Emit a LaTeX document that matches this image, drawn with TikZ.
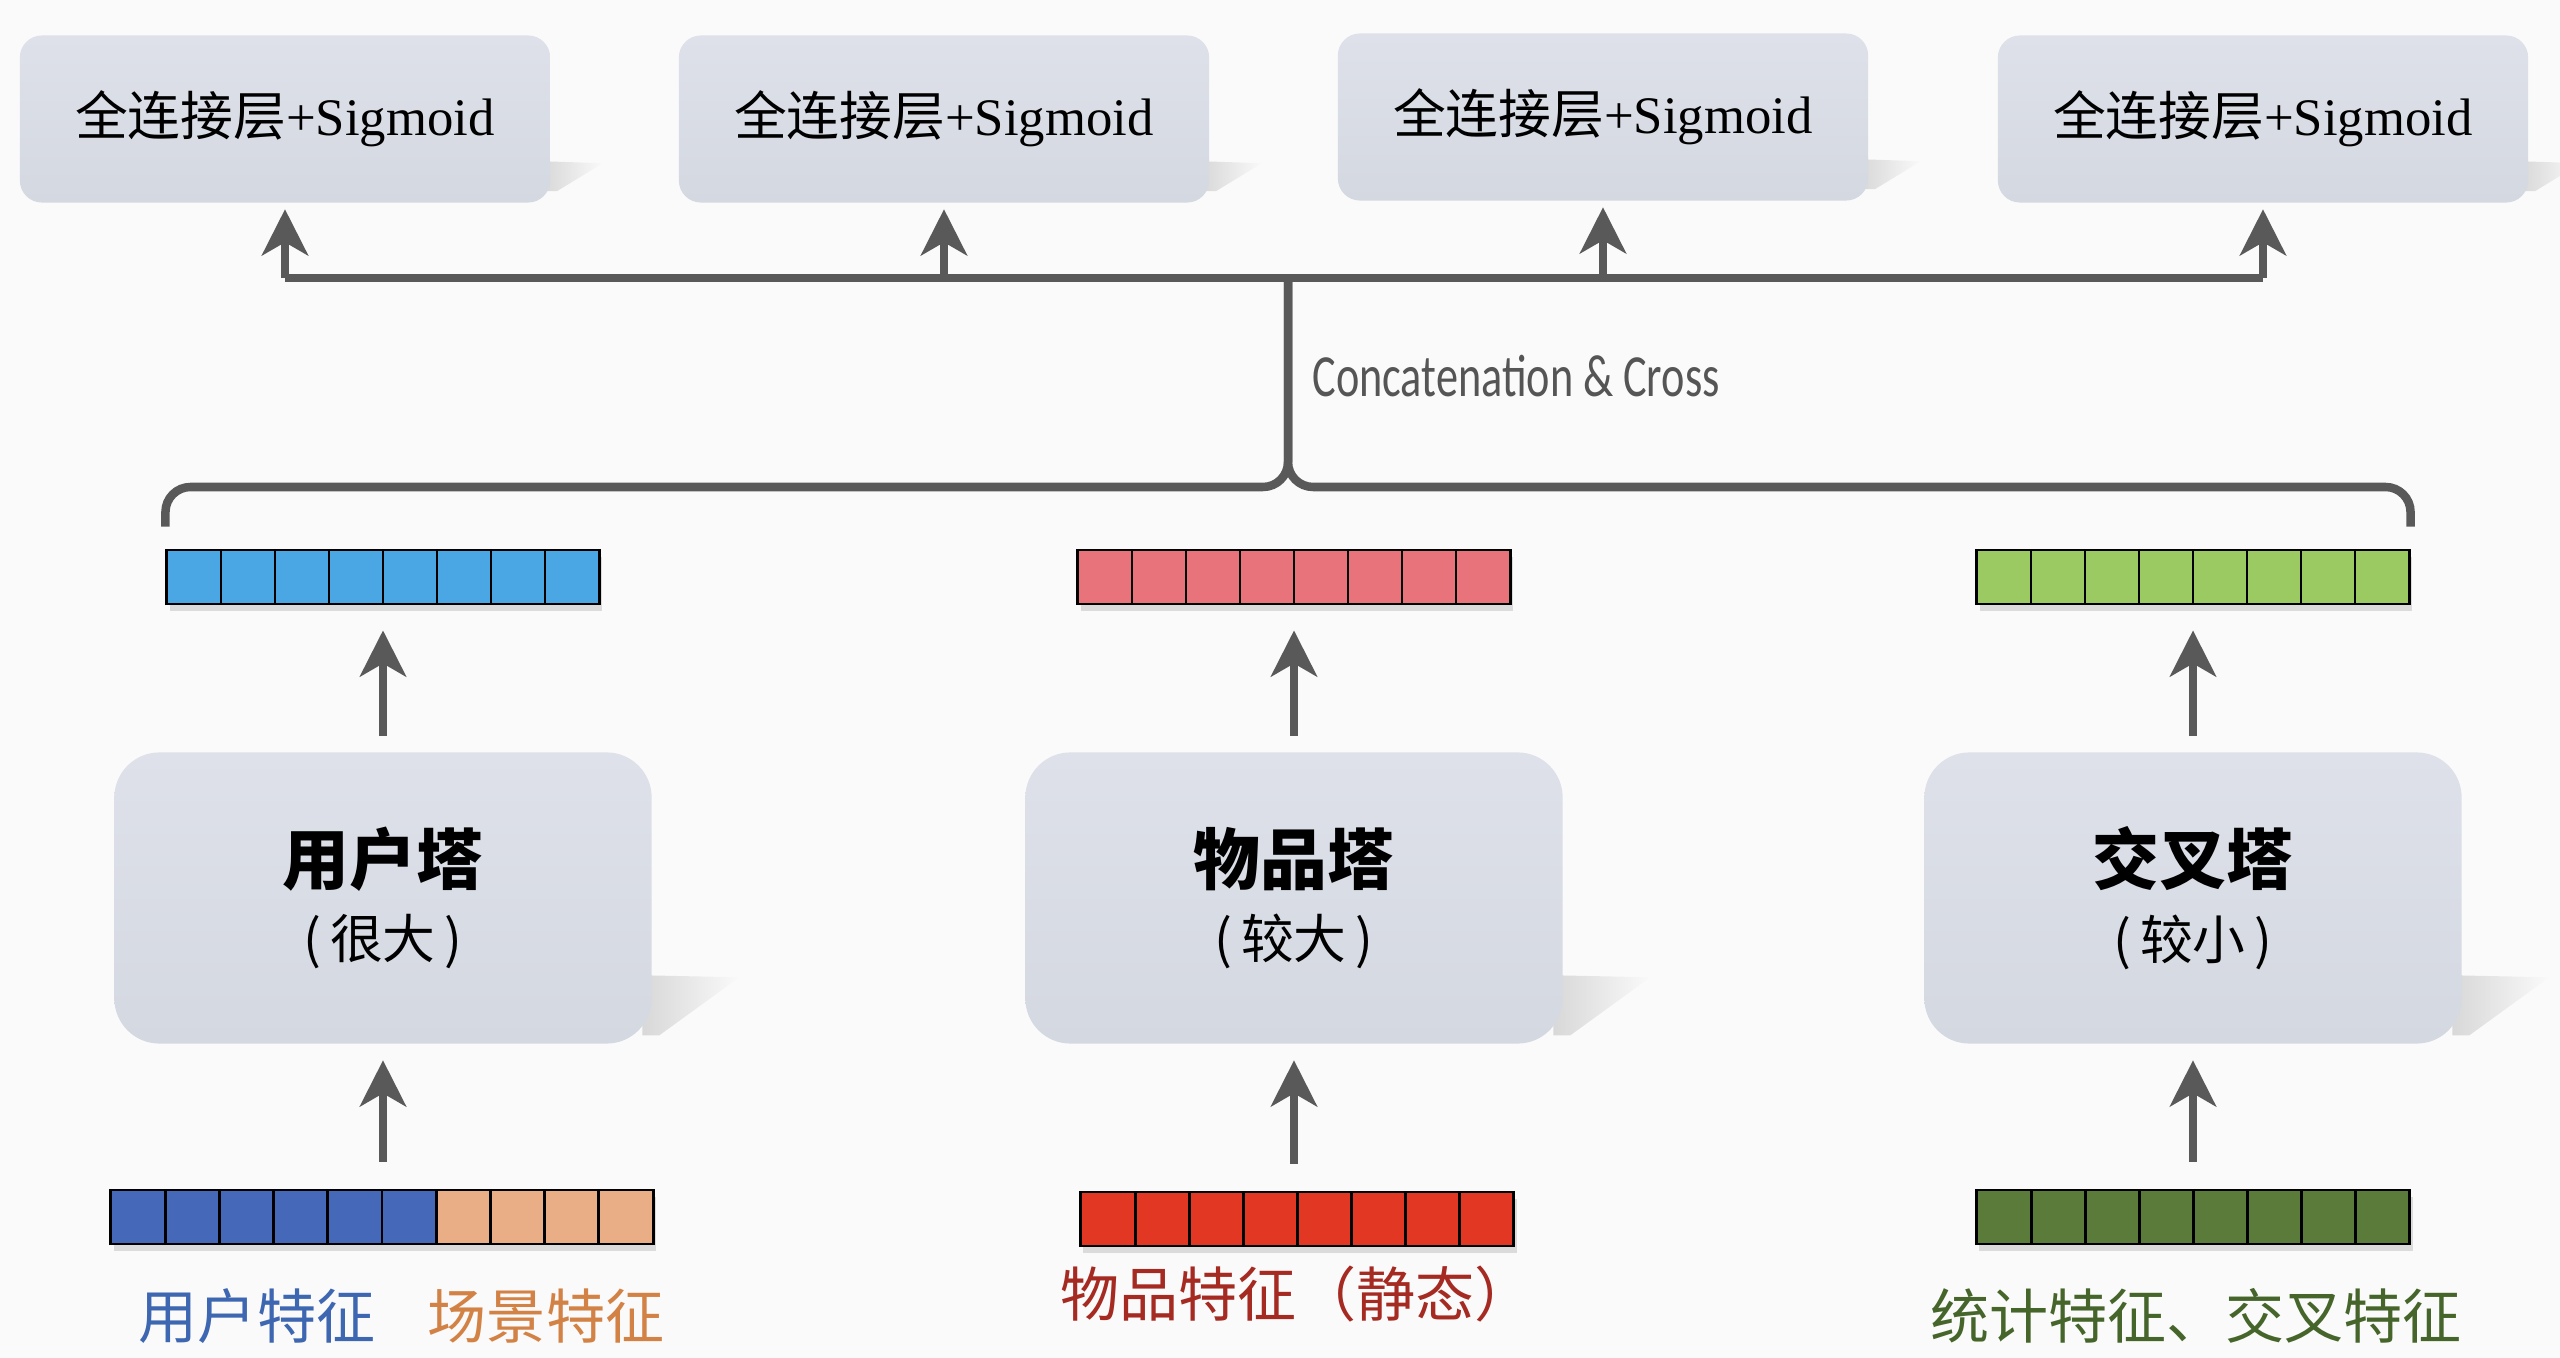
\documentclass[tikz,border=0pt]{standalone}
\usepackage{fontspec}
\setmainfont{Liberation Serif}
\newfontfamily\cjk{Noto Sans CJK SC}
\newfontfamily\capfont{Carlito}
\usetikzlibrary{arrows.meta,shadows,fadings,backgrounds}

\definecolor{bggray}{HTML}{FAFAFA}
\definecolor{boxtop}{HTML}{DEE1E9}
\definecolor{boxbot}{HTML}{D4D8E1}
\definecolor{arrgray}{HTML}{595959}
\definecolor{topblue}{HTML}{4BA6E4}
\definecolor{topred}{HTML}{E8737A}
\definecolor{topgreen}{HTML}{9BCA62}
\definecolor{inblue}{HTML}{4668B8}
\definecolor{inorange}{HTML}{EAAE86}
\definecolor{inred}{HTML}{E23823}
\definecolor{ingreen}{HTML}{5B7B3A}
\definecolor{txtblue}{HTML}{3E67B1}
\definecolor{txtorange}{HTML}{D38246}
\definecolor{txtred}{HTML}{A52A22}
\definecolor{txtgreen}{HTML}{46652B}
\definecolor{captxt}{HTML}{555555}

\tikzset{
  fcbox/.style={rounded corners=0.22cm, top color=boxtop, bottom color=boxbot,
    minimum width=5.3cm, minimum height=1.67cm, font=\fontsize{15}{18}\selectfont},
  tower/.style={rounded corners=0.45cm, top color=boxtop, bottom color=boxbot,
    minimum width=5.37cm, minimum height=2.91cm, align=center, font=\cjk},
  vecbox/.style={draw=black, line width=0.8pt, minimum height=0.54cm, inner sep=0pt,
    drop shadow={shadow xshift=0.03cm, shadow yshift=-0.07cm, opacity=0.25}},
  cell/.style={draw=black, line width=0.8pt},
  line/.style={draw=arrgray, line width=0.085cm},
  arr/.style={line, -{Stealth[length=0.46cm, width=0.46cm, inset=0.13cm]}},
  feat/.style={font=\cjk\fontsize{16.8}{20}\selectfont},
  boxshadow/.style={fill=black!35, opacity=0.4, path fading=east},
}

\begin{document}
\begin{tikzpicture}[x=0.01cm, y=-0.01cm]
    \useasboundingbox (0,0) rectangle (2560,1358);

    % fully connected heads
    \node [fcbox] (fc1) at (285,119) {{\cjk 全连接层}+Sigmoid};
    \node [fcbox] (fc2) at (944,119) {{\cjk 全连接层}+Sigmoid};
    \node [fcbox] (fc3) at (1603,117) {{\cjk 全连接层}+Sigmoid};
    \node [fcbox] (fc4) at (2263,119) {{\cjk 全连接层}+Sigmoid};

    % towers
    \node [tower] (utower) at (383,898)
        {{\bfseries\fontsize{19}{23}\selectfont 用户塔}\\[0.2cm]{\fontsize{15}{18}\selectfont (\,很大\,)}};
    \node [tower] (itower) at (1294,898)
        {{\bfseries\fontsize{19}{23}\selectfont 物品塔}\\[0.2cm]{\fontsize{15}{18}\selectfont (\,较大\,)}};
    \node [tower] (ctower) at (2193,898)
        {{\bfseries\fontsize{19}{23}\selectfont 交叉塔}\\[0.2cm]{\fontsize{15}{18}\selectfont (\,较小\,)}};

    % tower outputs
    \node [vecbox, minimum width=4.32cm] (uvec) at (383,577) {};
    \node [vecbox, minimum width=4.32cm] (ivec) at (1294,577) {};
    \node [vecbox, minimum width=4.32cm] (cvec) at (2193,577) {};
    \foreach \x/\c in {167/topblue, 1078/topred, 1977/topgreen}
        \foreach \i in {0,...,7}
            \draw [cell, fill=\c] (\x+54*\i,550) rectangle ++(54,54);

    % input features
    \node [vecbox, minimum width=5.42cm] (uin) at (382,1217) {};
    \node [vecbox, minimum width=4.33cm] (iin) at (1297,1219) {};
    \node [vecbox, minimum width=4.33cm] (cin) at (2193,1217) {};
    \foreach \i in {0,...,5}
        \draw [cell, fill=inblue] (111+54.2*\i,1190) rectangle ++(54.2,54);
    \foreach \i in {6,...,9}
        \draw [cell, fill=inorange] (111+54.2*\i,1190) rectangle ++(54.2,54);
    \foreach \i in {0,...,7}
        \draw [cell, fill=inred] (1081+54.1*\i,1192) rectangle ++(54.1,54);
    \foreach \i in {0,...,7}
        \draw [cell, fill=ingreen] (1977+54.1*\i,1190) rectangle ++(54.1,54);

    \node [feat, text=txtblue] (ulab) at (257,1316) {用户特征};
    \node [feat, text=txtorange] (slab) at (546,1316) {场景特征};
    \node [feat, text=txtred] (ilab) at (1297,1294) {物品特征（静态）};
    \node [feat, text=txtgreen] (clab) at (2196,1316) {统计特征、交叉特征};

    % arrows
    \foreach \a/\b in {uin/utower, iin/itower, cin/ctower}
        \draw [arr, shorten <=0.27cm, shorten >=0.16cm] (\b.south |- \a.north) -- (\b.south);
    \foreach \a/\b in {utower/uvec, itower/ivec, ctower/cvec}
        \draw [arr, shorten <=0.16cm, shorten >=0.25cm] (\a.north) -- (\a.north |- \b.south);

    % concatenation brace and bus
    \coordinate (bus) at (1288,278);
    \coordinate (brtip) at (1288,487);
    \draw [line] (bus -| fc1.south) -- (bus -| fc4.south);
    \foreach \f in {fc1,fc2,fc3,fc4}
        \draw [arr, shorten >=0.06cm] (bus -| \f.south) -- (\f.south);
    \draw [line, rounded corners=0.25cm] ([yshift=0.22cm]uvec.north west) |- (brtip) -- (bus);
    \draw [line, rounded corners=0.25cm] ([yshift=0.22cm]cvec.north east) |- (brtip) -- (bus);
    \node [anchor=west, text=captxt, font=\capfont\fontsize{17}{20}\selectfont] (cc) at (1300,376)
        {\scalebox{0.74}[1]{Concatenation \& Cross}};

    \begin{scope}[on background layer]
        \fill [bggray] (0,0) rectangle (2560,1358);
        \foreach \t in {utower,itower,ctower}
            \fill [boxshadow] ([shift={(-10,-69)}]\t.south east) -- ([shift={(87,-67)}]\t.south east)
                -- ([shift={(7,-9)}]\t.south east) -- ([shift={(-10,-9)}]\t.south east) -- cycle;
        \foreach \f in {fc1,fc2,fc3,fc4}
            \fill [boxshadow] ([shift={(-8,-42)}]\f.south east) -- ([shift={(52,-40)}]\f.south east)
                -- ([shift={(6,-12)}]\f.south east) -- ([shift={(-8,-12)}]\f.south east) -- cycle;
    \end{scope}
\end{tikzpicture}
\end{document}
